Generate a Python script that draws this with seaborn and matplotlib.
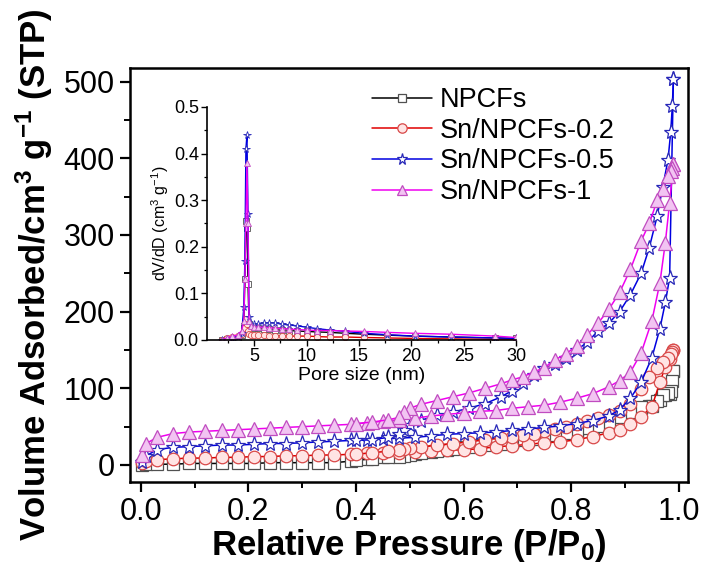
import numpy as np
import matplotlib.pyplot as plt
import pandas as pd
import seaborn as sns
from matplotlib import font_manager
from matplotlib.ticker import MultipleLocator

## adsorption branch pressures (shared by all samples)
ads_p = [0.003, 0.01, 0.03, 0.06, 0.09, 0.12, 0.15, 0.18, 0.21, 0.24, 0.27, 0.30, 0.33,
         0.36, 0.39, 0.42, 0.45, 0.48, 0.51, 0.54, 0.57, 0.60, 0.63, 0.66, 0.69, 0.72,
         0.75, 0.78, 0.81, 0.84, 0.87, 0.89, 0.91, 0.93, 0.95, 0.965, 0.975, 0.983, 0.99]
## desorption branch pressures
des_p = [0.99, 0.988, 0.985, 0.98, 0.97, 0.96, 0.945, 0.93, 0.91, 0.89, 0.87, 0.85, 0.83,
         0.81, 0.79, 0.77, 0.75, 0.73, 0.71, 0.69, 0.67, 0.64, 0.61, 0.58, 0.55, 0.52,
         0.50, 0.49, 0.48, 0.46, 0.43, 0.40]

npcf_ads = [0, 1, 1, 1, 2, 2, 2, 2, 2, 3, 3, 3, 3, 3, 5, 8, 10, 12, 14, 17, 20, 23, 26,
            28, 31, 33, 36, 40, 44, 49, 55, 60, 67, 74, 77, 85, 91, 93, 123]
npcf_des = [123, 110, 96, 94, 91, 83, 77, 75, 69, 63, 56, 51, 48, 45, 42, 39, 37, 34, 32,
            30, 28, 26, 24, 21, 18, 15, 13, 12, 11, 10, 8, 6]

sn02_ads = [3, 5, 7, 8, 9, 9, 10, 10, 11, 11, 12, 12, 13, 13, 14, 15, 15, 16, 17, 18, 19,
            20, 21, 24, 25, 27, 29, 30, 33, 37, 42, 46, 54, 63, 76, 108, 128, 138, 150]
sn02_des = [150, 148, 145, 140, 134, 127, 115, 99, 79, 70, 65, 61, 57, 53, 50, 47, 44, 41,
            39, 37, 35, 33, 30, 28, 26, 23, 22, 21, 20, 18, 16, 14]

sn05_ads = [4, 12, 20, 23, 24, 25, 26, 26, 27, 28, 28, 29, 30, 31, 32, 33, 34, 35, 36, 38,
            40, 41, 42, 43, 45, 47, 49, 51, 54, 58, 64, 72, 87, 108, 140, 178, 212, 244, 503]
sn05_des = [503, 468, 434, 398, 362, 325, 283, 250, 222, 200, 185, 175, 160, 150, 140, 132,
            126, 117, 107, 97, 89, 80, 74, 69, 65, 58, 52, 46, 40, 36, 33, 32]

sn1_ads = [13, 28, 36, 41, 43, 44, 45, 46, 47, 48, 49, 50, 51, 52, 53, 55, 57, 59, 61, 64,
           66, 68, 70, 71, 74, 76, 78, 82, 87, 93, 102, 110, 121, 146, 188, 238, 290, 342, 392]
sn1_des = [392, 388, 383, 377, 360, 345, 315, 292, 255, 225, 203, 185, 170, 155, 145, 137,
           127, 121, 115, 111, 106, 100, 94, 89, 84, 79, 74, 69, 62, 59, 56, 54]

## pore size distribution (inset)
psd_d = [1.9, 2.4, 2.9, 3.4, 3.8, 4.0, 4.1, 4.2, 4.3, 4.4, 4.5, 4.7, 5.0, 5.4, 5.9, 6.4,
         7.0, 7.6, 8.3, 9.1, 10.0, 11.0, 12.2, 13.7, 15.5, 17.7, 20.3, 23.8, 28.0, 30.0]
npcf_psd = [0.0, 0.001, 0.002, 0.004, 0.01, 0.03, 0.13, 0.255, 0.24, 0.12, 0.035, 0.028,
            0.026, 0.025, 0.024, 0.023, 0.022, 0.021, 0.020, 0.019, 0.018, 0.017, 0.016,
            0.014, 0.012, 0.010, 0.008, 0.006, 0.004, 0.003]
sn02_psd = [0.0, 0.003, 0.006, 0.008, 0.012, 0.025, 0.04, 0.045, 0.035, 0.02, 0.012, 0.010,
            0.010, 0.010, 0.010, 0.009, 0.009, 0.009, 0.008, 0.008, 0.008, 0.007, 0.006,
            0.006, 0.005, 0.004, 0.003, 0.002, 0.001, 0.001]
sn05_psd = [0.0, 0.002, 0.004, 0.006, 0.015, 0.07, 0.17, 0.41, 0.44, 0.27, 0.05, 0.035,
            0.033, 0.034, 0.036, 0.037, 0.036, 0.034, 0.032, 0.030, 0.027, 0.024, 0.021,
            0.018, 0.014, 0.011, 0.008, 0.006, 0.004, 0.003]
sn1_psd = [0.0, 0.004, 0.008, 0.01, 0.02, 0.04, 0.13, 0.25, 0.38, 0.25, 0.04, 0.03, 0.028,
           0.027, 0.027, 0.026, 0.025, 0.024, 0.023, 0.022, 0.021, 0.020, 0.020, 0.019,
           0.018, 0.016, 0.014, 0.012, 0.008, 0.005]

labels = ['NPCFs', 'Sn/NPCFs-0.2', 'Sn/NPCFs-0.5', 'Sn/NPCFs-1']

## line colour, marker, face colour, edge colour, marker size
styles = {
    'NPCFs': ('#000000', 's', '#ffffff', '#505050', 8.5),
    'Sn/NPCFs-0.2': ('#e00000', 'o', '#ffe4e4', '#d84848', 9),
    'Sn/NPCFs-0.5': ('#0000e0', '*', '#ffffff', '#2828b8', 11),
    'Sn/NPCFs-1': ('#f000f0', '^', '#f2c4f2', '#c04cc0', 9.5),
}

iso = pd.DataFrame()
for lab, a, d in zip(labels, [npcf_ads, sn02_ads, sn05_ads, sn1_ads],
                     [npcf_des, sn02_des, sn05_des, sn1_des]):
    iso = pd.concat([iso,
                     pd.DataFrame({'sample': lab, 'branch': 'ads', 'p': ads_p, 'v': a}),
                     pd.DataFrame({'sample': lab, 'branch': 'des', 'p': des_p, 'v': d})])

psd = pd.DataFrame()
for lab, y in zip(labels, [npcf_psd, sn02_psd, sn05_psd, sn1_psd]):
    psd = pd.concat([psd, pd.DataFrame({'sample': lab, 'd': psd_d, 'dv': y})])

sns.set_style('ticks')
names = {f.name for f in font_manager.fontManager.ttflist}
narrow = 'Liberation Sans Narrow' if 'Liberation Sans Narrow' in names else 'Liberation Sans'
plt.rcParams['font.family'] = ['Liberation Sans', 'DejaVu Sans']
plt.rcParams['mathtext.default'] = 'regular'
plt.rcParams['axes.linewidth'] = 1.8
plt.rcParams['axes.edgecolor'] = 'black'
plt.rcParams['xtick.color'] = 'black'
plt.rcParams['ytick.color'] = 'black'
plt.rcParams['text.color'] = 'black'
plt.rcParams['axes.labelcolor'] = 'black'

fig = plt.figure(figsize=(7.07, 5.75), dpi=100)
ax = fig.add_axes([0.184, 0.162, 0.789, 0.72])
ins = fig.add_axes([0.293, 0.409, 0.437, 0.405])
ins.set_facecolor('none')

## main isotherms
for lab in labels:
    col, mk, fc, ec, ms = styles[lab]
    for br in ['ads', 'des']:
        sub = iso[(iso['sample'] == lab) & (iso['branch'] == br)]
        sns.lineplot(data=sub, x='p', y='v', ax=ax, sort=False, estimator=None,
                     color=col, lw=1.1, marker=mk, markersize=ms,
                     markerfacecolor=fc, markeredgecolor=ec, markeredgewidth=0.9,
                     label=lab if br == 'ads' else None, legend=False)

ax.set_xlim(-0.02, 1.017)
ax.set_ylim(-22, 518)
ax.xaxis.set_major_locator(MultipleLocator(0.2))
ax.xaxis.set_minor_locator(MultipleLocator(0.1))
ax.yaxis.set_major_locator(MultipleLocator(100))
ax.yaxis.set_minor_locator(MultipleLocator(50))
ax.set_xticks([0.0, 0.2, 0.4, 0.6, 0.8, 1.0])
ax.set_xticklabels(['0.0', '0.2', '0.4', '0.6', '0.8', '1.0'])
ax.tick_params(which='major', direction='out', length=7, width=1.6, labelsize=22, pad=4)
ax.tick_params(which='minor', direction='out', length=4, width=1.4)
for t in ax.get_xticklabels() + ax.get_yticklabels():
    t.set_family(narrow)
for s in ax.spines.values():
    s.set_visible(True)
ax.set_xlabel('Relative Pressure (P/P$_0$)', fontsize=25, fontweight='bold', labelpad=0)
ax.set_ylabel('Volume Adsorbed/cm$^3$ g$^{-1}$ (STP)', fontsize=25, fontweight='bold',
              labelpad=6)

leg = ax.legend(loc='upper left', bbox_to_anchor=(0.39, 1.012), frameon=False,
                fontsize=19.5, handlelength=2.2, handletextpad=0.3, labelspacing=0.17,
                markerscale=0.75)

## inset pore size distribution
for lab in labels:
    col, mk, fc, ec, ms = styles[lab]
    sub = psd[psd['sample'] == lab]
    sns.lineplot(data=sub, x='d', y='dv', ax=ins, sort=False, estimator=None,
                 color=col, lw=1.0, marker=mk, markersize=ms * 0.5,
                 markerfacecolor=fc, markeredgecolor=ec, markeredgewidth=0.6,
                 legend=False)

ins.set_xlim(0.5, 30)
ins.set_ylim(0, 0.5)
ins.xaxis.set_major_locator(MultipleLocator(5))
ins.xaxis.set_minor_locator(MultipleLocator(2.5))
ins.yaxis.set_major_locator(MultipleLocator(0.1))
ins.yaxis.set_minor_locator(MultipleLocator(0.05))
ins.set_xticks([5, 10, 15, 20, 25, 30])
ins.tick_params(which='major', direction='out', length=4, width=1.0, labelsize=13, pad=2)
ins.tick_params(which='minor', direction='out', length=2.5, width=0.9)
for s in ['top', 'right']:
    ins.spines[s].set_visible(False)
for s in ['left', 'bottom']:
    ins.spines[s].set_linewidth(1.2)
ins.set_xlabel('Pore size (nm)', fontsize=14, labelpad=1)
ins.set_ylabel('dV/dD (cm$^3$ g$^{-1}$)', fontsize=11.5, labelpad=2)

fig.savefig('out.png', dpi=100)
